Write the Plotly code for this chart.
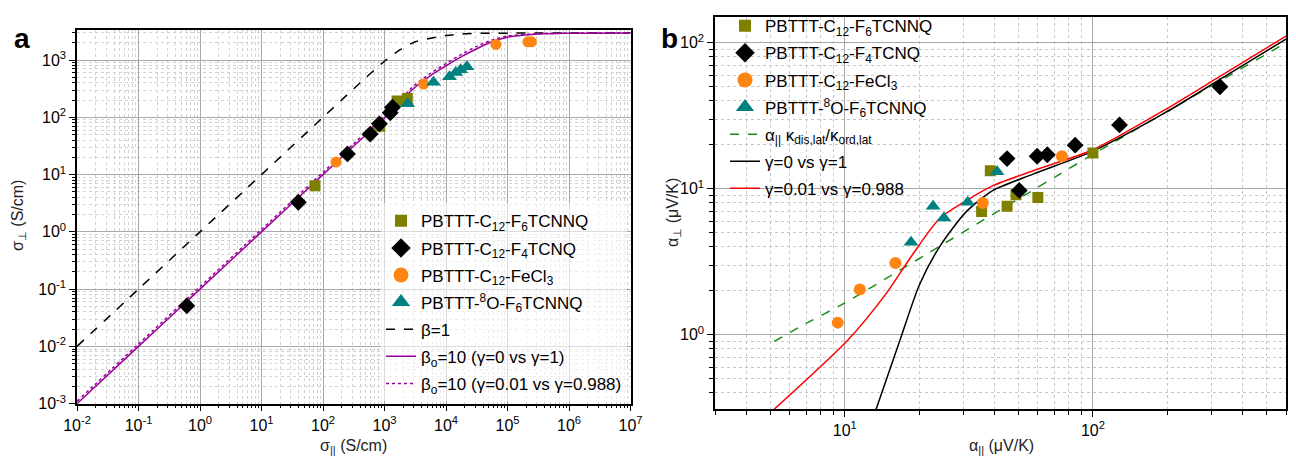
import plotly.graph_objects as go
import numpy as np

# ---------------- Panel a data ----------------
a_f6_x = [74, 837, 1600, 2350]
a_f6_y = [6.4, 70, 193, 214]
a_f4_x = [0.61, 39.7, 250, 585, 826, 1240, 1350]
a_f4_y = [0.051, 3.3, 23, 51, 77, 120, 150]
a_fecl_x = [163, 4330, 65000, 215000, 245000]
a_fecl_y = [16.6, 382, 1880, 2090, 2090]
a_8o_x = [2380, 6250, 11400, 14400, 17300, 21900]
a_8o_y = [172, 410, 512, 606, 678, 764]

# model curves
a_curve_x = [1e-2, 1e-1, 1e0, 1e1, 1e2, 316, 1e3, 1780, 3160, 5620, 1e4, 17800,
             31600, 56200, 1e5, 316000, 1e6, 1e7]
a_beta1_y = [1e-2, 1e-1, 1e0, 1e1, 100, 316, 955, 1510, 2090, 2400, 2690, 2850,
             2920, 2950, 2950, 2980, 2985, 2985]
a_g0_y = [1e-3, 1e-2, 0.1, 1.0, 10.0, 31.6, 97.7, 186, 339, 537, 794, 1150,
          1580, 2090, 2510, 2850, 2950, 2985]
a_g001_y = [1.1e-3, 1.1e-2, 0.11, 1.1, 11.0, 34.7, 107, 204, 372, 589, 871, 1260,
            1740, 2240, 2630, 2880, 2950, 2985]

# ---------------- Panel b data ----------------
b_f6_x = [35.6, 38.6, 45.1, 49.0, 60.0, 100]
b_f6_y = [7.0, 13.3, 7.6, 9.1, 8.7, 17.6]
b_f4_x = [45.1, 50.5, 59.6, 65.5, 84.8, 128, 325]
b_f4_y = [16.1, 9.75, 16.7, 17.1, 19.9, 27.4, 50]
b_fecl_x = [9.37, 11.5, 16.0, 36.0, 75]
b_fecl_y = [1.21, 2.04, 3.1, 8.0, 16.7]
b_8o_x = [18.5, 22.7, 25.1, 31.3, 41.1]
b_8o_y = [4.3, 7.6, 6.3, 8.1, 13.1]

b_green_x = [5.2, 6.76, 10.0, 24.2, 100, 600]
b_green_y = [0.90, 1.16, 1.65, 4.05, 17.2, 100]
b_black_x = [13.3, 16.7, 20.0, 24.2, 30.9, 39.6, 57.4, 100, 198, 325, 600]
b_black_y = [0.30, 0.92, 2.2, 4.05, 6.97, 9.75, 12.6, 18.1, 33.6, 56.1, 106]
b_red_x = [5.1, 10.3, 14.7, 18.8, 24.2, 30.9, 39.6, 57.4, 100, 198, 325, 600]
b_red_y = [0.30, 0.92, 1.92, 3.56, 6.3, 8.3, 10.5, 13.3, 18.5, 35.3, 58.9, 111]

OLIVE = "#808000"
ORANGE = "#FF8412"
TEAL = "#008080"
PURPLE = "#990099"
FONT = "Liberation Sans, Arial, sans-serif"

# page is offset by the default 8px body margin
W, H, OFF = 1288, 458, 8

def X(px):
    return (px - OFF) / W

def Y(py):
    return 1 - (py - OFF) / H

names = ["PBTTT-C<sub>12</sub>-F<sub>6</sub>TCNNQ",
         "PBTTT-C<sub>12</sub>-F<sub>4</sub>TCNQ",
         "PBTTT-C<sub>12</sub>-FeCl<sub>3</sub>",
         "PBTTT-<sup>8</sup>O-F<sub>6</sub>TCNNQ"]
syms = ["square", "diamond", "circle", "triangle-up"]
cols = [OLIVE, "black", ORANGE, TEAL]
leg_sizes = [12, 15, 15, 16]

fig = go.Figure()
counter = [0]

def add(tr, rank):
    counter[0] += 1
    tr.update(legendrank=rank, legendgroup="g%d" % counter[0])
    fig.add_trace(tr)

def markers(x, y, i, size, xa, ya):
    fig.add_trace(go.Scatter(x=x, y=y, mode="markers", name=names[i], showlegend=False,
                             marker=dict(symbol=syms[i], color=cols[i], size=size, line=dict(width=0)),
                             xaxis=xa, yaxis=ya))

def legend_marker(i, xa, ya, leg):
    # legend-only entry (no data points) with the larger legend symbol size
    add(go.Scatter(x=[None], y=[None], mode="markers", name=names[i],
                   marker=dict(symbol=syms[i], color=cols[i], size=leg_sizes[i], line=dict(width=0)),
                   xaxis=xa, yaxis=ya, legend=leg), i + 1)

# panel a lines first (drawn under markers)
add(go.Scatter(x=a_curve_x, y=a_beta1_y, mode="lines", name="β=1",
               line=dict(color="black", width=1.5, dash="dash", shape="spline", smoothing=0.8),
               xaxis="x", yaxis="y", legend="legend"), 5)
add(go.Scatter(x=a_curve_x, y=a_g0_y, mode="lines", name="β<sub>o</sub>=10 (γ=0 vs γ=1)",
               line=dict(color=PURPLE, width=1.5, shape="spline", smoothing=0.8),
               xaxis="x", yaxis="y", legend="legend"), 6)
add(go.Scatter(x=a_curve_x, y=a_g001_y, mode="lines", name="β<sub>o</sub>=10 (γ=0.01 vs γ=0.988)",
               line=dict(color=PURPLE, width=1.5, dash="dot", shape="spline", smoothing=0.8),
               xaxis="x", yaxis="y", legend="legend"), 7)
markers(a_f6_x, a_f6_y, 0, 11, "x", "y")
markers(a_f4_x, a_f4_y, 1, 13, "x", "y")
markers(a_fecl_x, a_fecl_y, 2, 11, "x", "y")
markers(a_8o_x, a_8o_y, 3, 13, "x", "y")
for i in range(4):
    legend_marker(i, "x", "y", "legend")

# panel b
add(go.Scatter(x=b_green_x, y=b_green_y, mode="lines",
               name="α<sub>||</sub> κ<sub>dis,lat</sub>/κ<sub>ord,lat</sub>",
               line=dict(color="#1A8C1A", width=1.5, dash="dash", shape="spline", smoothing=0.5),
               xaxis="x2", yaxis="y2", legend="legend2"), 5)
add(go.Scatter(x=b_black_x, y=b_black_y, mode="lines", name="γ=0 vs γ=1",
               line=dict(color="black", width=1.5, shape="spline", smoothing=0.7),
               xaxis="x2", yaxis="y2", legend="legend2"), 6)
add(go.Scatter(x=b_red_x, y=b_red_y, mode="lines", name="γ=0.01 vs γ=0.988",
               line=dict(color="red", width=1.5, shape="spline", smoothing=0.7),
               xaxis="x2", yaxis="y2", legend="legend2"), 7)
markers(b_f6_x, b_f6_y, 0, 11, "x2", "y2")
markers(b_f4_x, b_f4_y, 1, 13, "x2", "y2")
markers(b_fecl_x, b_fecl_y, 2, 12, "x2", "y2")
markers(b_8o_x, b_8o_y, 3, 13, "x2", "y2")
for i in range(4):
    legend_marker(i, "x2", "y2", "legend2")

def sup(e):
    return "10<sup>%d</sup>" % e

def minors(lo, hi):
    out = []
    for d in range(lo, hi + 1):
        for m in range(2, 10):
            out.append(m * 10.0 ** d)
    return out

axis_common = dict(type="log", showline=True, linecolor="black", linewidth=1.5, mirror=True,
                   ticks="outside", ticklen=6, tickwidth=1.2, tickcolor="black",
                   showgrid=True, gridcolor="#a8a8a8", gridwidth=1, zeroline=False,
                   tickfont=dict(size=16, color="black", family=FONT), automargin=False)

ea = list(range(-2, 8))
fig.update_layout(
    xaxis=dict(axis_common, range=[-2, 7], domain=[X(77), X(630.5)], anchor="y",
               tickmode="array", tickvals=[10.0 ** e for e in ea], ticktext=[sup(e) for e in ea],
               minor=dict(tickmode="array", tickvals=minors(-2, 6), ticks="outside", ticklen=3,
                          tickcolor="black", showgrid=True, gridcolor="#d2d2d2", griddash="dot", gridwidth=1)),
    yaxis=dict(axis_common, range=[-3, 3.53], domain=[Y(402.4), Y(21)], anchor="x",
               tickmode="array", tickvals=[10.0 ** e for e in range(-3, 4)],
               ticktext=[sup(e) for e in range(-3, 4)],
               minor=dict(tickmode="array", tickvals=minors(-3, 3), ticks="outside", ticklen=3,
                          tickcolor="black", showgrid=True, gridcolor="#d2d2d2", griddash="dot", gridwidth=1)),
    xaxis2=dict(axis_common, range=[np.log10(3), np.log10(600)], domain=[X(715), X(1286)], anchor="y2",
                tickmode="array", tickvals=[10, 100], ticktext=[sup(1), sup(2)],
                minor=dict(tickmode="array", tickvals=[v for v in minors(0, 2) if 3 <= v <= 600],
                           ticks="outside", ticklen=4, tickcolor="black", showgrid=True,
                           gridcolor="#c8c8c8", griddash="dot", gridwidth=1)),
    yaxis2=dict(axis_common, range=[-0.51, 2.177], domain=[Y(408), Y(8)], anchor="x2",
                tickmode="array", tickvals=[1, 10, 100], ticktext=[sup(0), sup(1), sup(2)],
                minor=dict(tickmode="array", tickvals=[v for v in minors(-1, 2) if 0.3 <= v <= 150],
                           ticks="outside", ticklen=4, tickcolor="black", showgrid=True,
                           gridcolor="#c8c8c8", griddash="dot", gridwidth=1)),
    legend=dict(x=X(381), y=Y(198), xanchor="left", yanchor="top", bgcolor="rgba(255,255,255,0.6)",
                font=dict(size=17, family=FONT, color="black"), tracegroupgap=2,
                traceorder="grouped", itemwidth=30),
    legend2=dict(x=X(725), y=Y(-1), xanchor="left", yanchor="top", bgcolor="rgba(0,0,0,0)",
                 font=dict(size=17, family=FONT, color="black"), tracegroupgap=2,
                 traceorder="grouped", itemwidth=30),
    width=W, height=H, margin=dict(l=0, r=0, t=0, b=0),
    paper_bgcolor="white", plot_bgcolor="white",
    font=dict(family=FONT, color="black"),
    showlegend=True,
)

anns = [
    dict(text="<b>a</b>", x=X(22), y=Y(30), font=dict(size=28)),
    dict(text="<b>b</b>", x=X(669), y=Y(30), font=dict(size=28)),
    dict(text="σ<sub>⊥</sub> (S/cm)", x=X(18), y=Y(211), textangle=-90, font=dict(size=16, color="#222")),
    dict(text="σ<sub>||</sub> (S/cm)", x=X(353), y=Y(446), font=dict(size=16, color="#222")),
    dict(text="α<sub>⊥</sub> (μV/K)", x=X(673), y=Y(208), textangle=-90, font=dict(size=16, color="#222")),
    dict(text="α<sub>||</sub> (μV/K)", x=X(1001), y=Y(446), font=dict(size=16, color="#222")),
]
for a in anns:
    a.update(xref="paper", yref="paper", showarrow=False, xanchor="center", yanchor="middle")
    a["font"].setdefault("family", FONT)
    a["font"].setdefault("color", "black")
fig.update_layout(annotations=anns)

fig.write_html("out.html")
